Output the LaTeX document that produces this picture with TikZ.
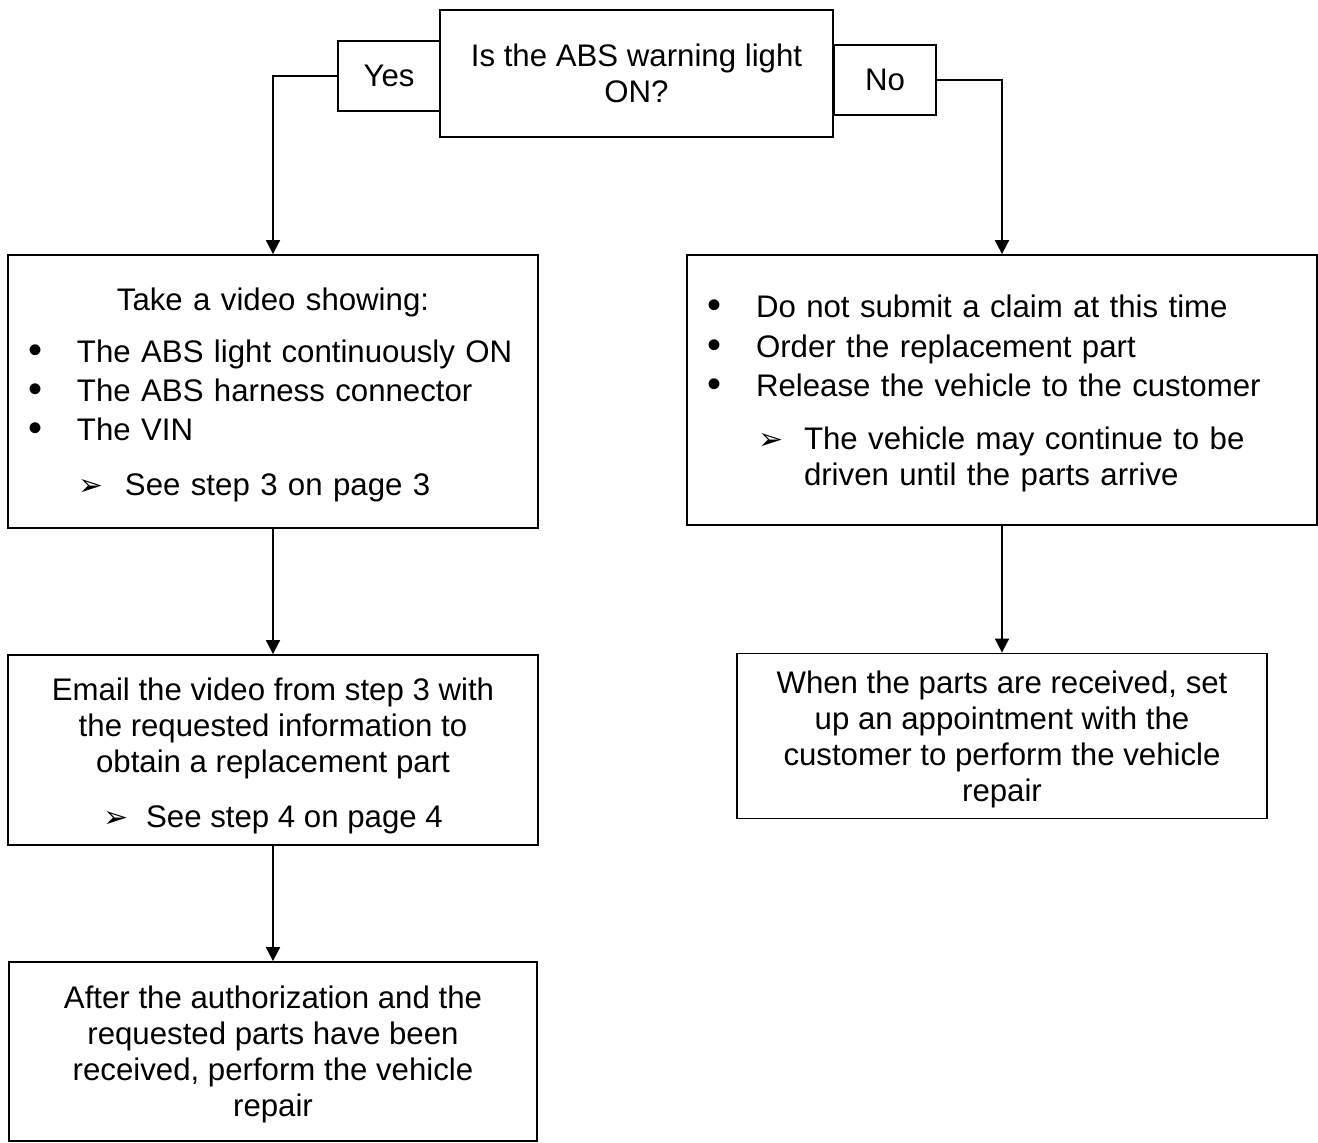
\documentclass[tikz,border=0pt]{standalone}
\usepackage{fontspec}
\setmainfont{Liberation Sans}
\newfontfamily\dingfont{DejaVu Sans}
\usetikzlibrary{arrows.meta}
\newcommand{\bul}[1]{\hspace*{10pt}\makebox[24.5pt][l]{\raisebox{-0.6pt}{\fontsize{20}{18}\selectfont\textbullet}}#1}
\newcommand{\pointer}[2]{\hspace*{#1}\makebox[23pt][l]{\dingfont\fontsize{15}{18}\selectfont ➢}#2}
\tikzstyle{flowBox} = [draw, rectangle, inner sep=0pt, align=center,
   font=\fontsize{15.6}{18}\selectfont]
\tikzstyle{listBox} = [flowBox, align=left]
\tikzstyle{flowArrow} = [-{Triangle[length=7pt,width=7pt]}]

\begin{document}
\begin{tikzpicture}[x=0.5pt, y=-0.5pt, line width=0.9pt]
  \useasboundingbox (0,0) rectangle (1318,1143);
  \node[flowBox, minimum width=196.5pt, minimum height=63.5pt] at (636.5,73.5)(q){Is the ABS warning light\\ON?};
  \node[flowBox, minimum width=51pt, minimum height=35pt] at (389,76)(yes){Yes};
  \node[flowBox, minimum width=51pt, minimum height=35pt] at (885,80)(no){No};

  \node[listBox, minimum width=265pt, minimum height=136.5pt, text width=265pt] at (273,391.5)(video){%
    \rule{0pt}{15pt}\makebox[\linewidth]{Take a video showing:}\\[8pt]
    \bul{The ABS light continuously ON}\\[1.5pt]
    \bul{The ABS harness connector}\\[1.5pt]
    \bul{The VIN}\\[9.5pt]
    \pointer{35.5pt}{See step 3 on page 3}};
  \node[listBox, minimum width=315pt, minimum height=135pt, text width=315pt] at (1002,390)(claim){%
    \rule{0pt}{15pt}\bul{Do not submit a claim at this time}\\[2pt]
    \bul{Order the replacement part}\\[1.5pt]
    \bul{Release the vehicle to the customer}\\[8.5pt]
    \pointer{35.5pt}{\parbox[t]{250pt}{The vehicle may continue to be\\driven until the parts arrive}}};
  \node[flowBox, minimum width=265pt, minimum height=95pt] at (273,750)(email){%
    \rule{0pt}{17pt}Email the video from step 3 with\\the requested information to\\obtain a replacement part\\[9.5pt]
    \makebox[21.5pt][l]{\dingfont\fontsize{15}{18}\selectfont ➢}See step 4 on page 4};
  \node[flowBox, minimum width=264pt, minimum height=89.5pt] at (273,1051.5)(after){%
    \rule{0pt}{14pt}After the authorization and the\\requested parts have been\\received, perform the vehicle\\repair};
  \node[flowBox, minimum width=265pt, minimum height=82.5pt] at (1002,736)(parts){%
    \rule{0pt}{14.5pt}When the parts are received, set\\up an appointment with the\\customer to perform the vehicle\\repair};

  \draw[flowArrow] (yes.west) -| (video.north);
  \draw[flowArrow] (no.east) -| (claim.north);
  \draw[flowArrow] (video) -- (email);
  \draw[flowArrow] (email) -- (after);
  \draw[flowArrow] (claim) -- (parts);
\end{tikzpicture}
\end{document}
